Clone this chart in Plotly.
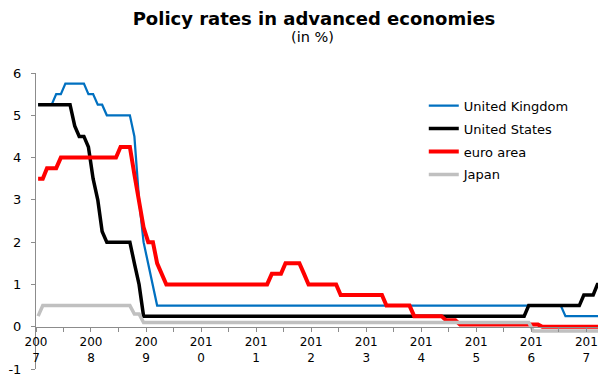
import plotly.graph_objects as go

# Monthly observations, Jan 2007 .. Apr 2017 (plotted at mid-month)
years = list(range(2007, 2018))
months = [f"{y}-{m:02d}-15" for y in years for m in range(1, 13)][:124]

uk = [
    5.25, 5.25, 5.25, 5.25, 5.5, 5.5, 5.75, 5.75, 5.75, 5.75, 5.75, 5.5,   # 2007
    5.5, 5.25, 5.25, 5.0, 5.0, 5.0, 5.0, 5.0, 5.0, 4.5, 3.0, 2.0,         # 2008
    1.5, 1.0, 0.5, 0.5, 0.5, 0.5, 0.5, 0.5, 0.5, 0.5, 0.5, 0.5,           # 2009
    0.5, 0.5, 0.5, 0.5, 0.5, 0.5, 0.5, 0.5, 0.5, 0.5, 0.5, 0.5,           # 2010
    0.5, 0.5, 0.5, 0.5, 0.5, 0.5, 0.5, 0.5, 0.5, 0.5, 0.5, 0.5,           # 2011
    0.5, 0.5, 0.5, 0.5, 0.5, 0.5, 0.5, 0.5, 0.5, 0.5, 0.5, 0.5,           # 2012
    0.5, 0.5, 0.5, 0.5, 0.5, 0.5, 0.5, 0.5, 0.5, 0.5, 0.5, 0.5,           # 2013
    0.5, 0.5, 0.5, 0.5, 0.5, 0.5, 0.5, 0.5, 0.5, 0.5, 0.5, 0.5,           # 2014
    0.5, 0.5, 0.5, 0.5, 0.5, 0.5, 0.5, 0.5, 0.5, 0.5, 0.5, 0.5,           # 2015
    0.5, 0.5, 0.5, 0.5, 0.5, 0.5, 0.5, 0.25, 0.25, 0.25, 0.25, 0.25,      # 2016
    0.25, 0.25, 0.25, 0.25,                                                # 2017
]
us = [
    5.25, 5.25, 5.25, 5.25, 5.25, 5.25, 5.25, 5.25, 4.75, 4.5, 4.5, 4.25,  # 2007
    3.5, 3.0, 2.25, 2.0, 2.0, 2.0, 2.0, 2.0, 2.0, 1.5, 1.0, 0.25,          # 2008
    0.25, 0.25, 0.25, 0.25, 0.25, 0.25, 0.25, 0.25, 0.25, 0.25, 0.25, 0.25,  # 2009
    0.25, 0.25, 0.25, 0.25, 0.25, 0.25, 0.25, 0.25, 0.25, 0.25, 0.25, 0.25,  # 2010
    0.25, 0.25, 0.25, 0.25, 0.25, 0.25, 0.25, 0.25, 0.25, 0.25, 0.25, 0.25,  # 2011
    0.25, 0.25, 0.25, 0.25, 0.25, 0.25, 0.25, 0.25, 0.25, 0.25, 0.25, 0.25,  # 2012
    0.25, 0.25, 0.25, 0.25, 0.25, 0.25, 0.25, 0.25, 0.25, 0.25, 0.25, 0.25,  # 2013
    0.25, 0.25, 0.25, 0.25, 0.25, 0.25, 0.25, 0.25, 0.25, 0.25, 0.25, 0.25,  # 2014
    0.25, 0.25, 0.25, 0.25, 0.25, 0.25, 0.25, 0.25, 0.25, 0.25, 0.25, 0.5,   # 2015
    0.5, 0.5, 0.5, 0.5, 0.5, 0.5, 0.5, 0.5, 0.5, 0.5, 0.5, 0.75,             # 2016
    0.75, 0.75, 1.0, 1.0,                                                    # 2017
]
euro = [
    3.5, 3.5, 3.75, 3.75, 3.75, 4.0, 4.0, 4.0, 4.0, 4.0, 4.0, 4.0,        # 2007
    4.0, 4.0, 4.0, 4.0, 4.0, 4.0, 4.25, 4.25, 4.25, 3.6, 2.9, 2.35,       # 2008
    2.0, 2.0, 1.5, 1.25, 1.0, 1.0, 1.0, 1.0, 1.0, 1.0, 1.0, 1.0,          # 2009
    1.0, 1.0, 1.0, 1.0, 1.0, 1.0, 1.0, 1.0, 1.0, 1.0, 1.0, 1.0,           # 2010
    1.0, 1.0, 1.0, 1.25, 1.25, 1.25, 1.5, 1.5, 1.5, 1.5, 1.25, 1.0,       # 2011
    1.0, 1.0, 1.0, 1.0, 1.0, 1.0, 0.75, 0.75, 0.75, 0.75, 0.75, 0.75,     # 2012
    0.75, 0.75, 0.75, 0.75, 0.5, 0.5, 0.5, 0.5, 0.5, 0.5, 0.25, 0.25,     # 2013
    0.25, 0.25, 0.25, 0.25, 0.25, 0.15, 0.15, 0.15, 0.05, 0.05, 0.05, 0.05,  # 2014
    0.05, 0.05, 0.05, 0.05, 0.05, 0.05, 0.05, 0.05, 0.05, 0.05, 0.05, 0.05,  # 2015
    0.05, 0.05, 0.0, 0.0, 0.0, 0.0, 0.0, 0.0, 0.0, 0.0, 0.0, 0.0,           # 2016
    0.0, 0.0, 0.0, 0.0,                                                      # 2017
]
japan = [
    0.25, 0.5, 0.5, 0.5, 0.5, 0.5, 0.5, 0.5, 0.5, 0.5, 0.5, 0.5,          # 2007
    0.5, 0.5, 0.5, 0.5, 0.5, 0.5, 0.5, 0.5, 0.5, 0.3, 0.3, 0.1,           # 2008
    0.1, 0.1, 0.1, 0.1, 0.1, 0.1, 0.1, 0.1, 0.1, 0.1, 0.1, 0.1,           # 2009
    0.1, 0.1, 0.1, 0.1, 0.1, 0.1, 0.1, 0.1, 0.1, 0.1, 0.1, 0.1,           # 2010
    0.1, 0.1, 0.1, 0.1, 0.1, 0.1, 0.1, 0.1, 0.1, 0.1, 0.1, 0.1,           # 2011
    0.1, 0.1, 0.1, 0.1, 0.1, 0.1, 0.1, 0.1, 0.1, 0.1, 0.1, 0.1,           # 2012
    0.1, 0.1, 0.1, 0.1, 0.1, 0.1, 0.1, 0.1, 0.1, 0.1, 0.1, 0.1,           # 2013
    0.1, 0.1, 0.1, 0.1, 0.1, 0.1, 0.1, 0.1, 0.1, 0.1, 0.1, 0.1,           # 2014
    0.1, 0.1, 0.1, 0.1, 0.1, 0.1, 0.1, 0.1, 0.1, 0.1, 0.1, 0.1,           # 2015
    -0.1, -0.1, -0.1, -0.1, -0.1, -0.1, -0.1, -0.1, -0.1, -0.1, -0.1, -0.1,  # 2016
    -0.1, -0.1, -0.1, -0.1,                                                  # 2017
]

series_names = ["United Kingdom", "United States", "euro area", "Japan"]
series_values = [uk, us, euro, japan]
series_colors = ["#0070C0", "#000000", "#FF0000", "#C0C0C0"]
series_widths = [2.25, 3.5, 4, 3.5]

y_ticks = [-1, 0, 1, 2, 3, 4, 5, 6]
y_tick_labels = ["-1", "0", "1", "2", "3", "4", "5", "6"]

tick_dates = [f"{y}-{m:02d}-01" for y in years for m in (1, 7)]
tick_labels = []
for y in years:
    s = str(y)
    tick_labels += [s[:3] + "<br>" + s[3:], ""]

FONT = "DejaVu Sans"

fig = go.Figure()
for name, vals, col, w in zip(series_names, series_values, series_colors, series_widths):
    fig.add_trace(go.Scatter(
        x=months[:len(vals)], y=vals, name=name, mode="lines",
        line=dict(color=col, width=w), legendgroup=name,
    ))

fig.update_layout(
    width=598, height=381,
    margin=dict(l=36, r=0, t=73, b=12),
    paper_bgcolor="white", plot_bgcolor="white",
    font=dict(family=FONT, size=12, color="black"),
    title=dict(text="<b>Policy rates in advanced economies</b>",
               x=314 / 598, xanchor="center", xref="container",
               y=1 - 19 / 381, yanchor="middle", yref="container",
               font=dict(family=FONT, size=18, color="black")),
    showlegend=True,
    legend=dict(x=0.69, xanchor="left", y=0.94, yanchor="top",
                font=dict(family=FONT, size=13, color="black"),
                bgcolor="rgba(0,0,0,0)", tracegroupgap=3,
                itemwidth=30),
    xaxis=dict(
        type="date",
        range=["2007-01-01", "2017-03-19"],
        tickmode="array", tickvals=tick_dates, ticktext=tick_labels,
        ticks="outside", ticklen=4, tickcolor="#8C8C8C",
        showline=True, linecolor="#8C8C8C", linewidth=1,
        showgrid=False, zeroline=False,
        anchor="free", position=1 / 7,
        tickfont=dict(family=FONT, size=12, color="black"),
    ),
    yaxis=dict(
        range=[-1, 6], tickmode="array", tickvals=y_ticks, ticktext=y_tick_labels,
        ticks="outside", ticklen=4, tickcolor="#8C8C8C",
        showline=True, linecolor="#8C8C8C", linewidth=1,
        showgrid=False, zeroline=False,
        tickfont=dict(family=FONT, size=13, color="black"),
        ticklabelstandoff=7,
    ),
    annotations=[dict(text="(in %)", xref="paper", yref="paper",
                      x=(312 - 36) / 562, y=(369 - 37) / 296,
                      xanchor="center", yanchor="middle", showarrow=False,
                      font=dict(family=FONT, size=14.5, color="black"))],
)

fig.write_html("out.html")
